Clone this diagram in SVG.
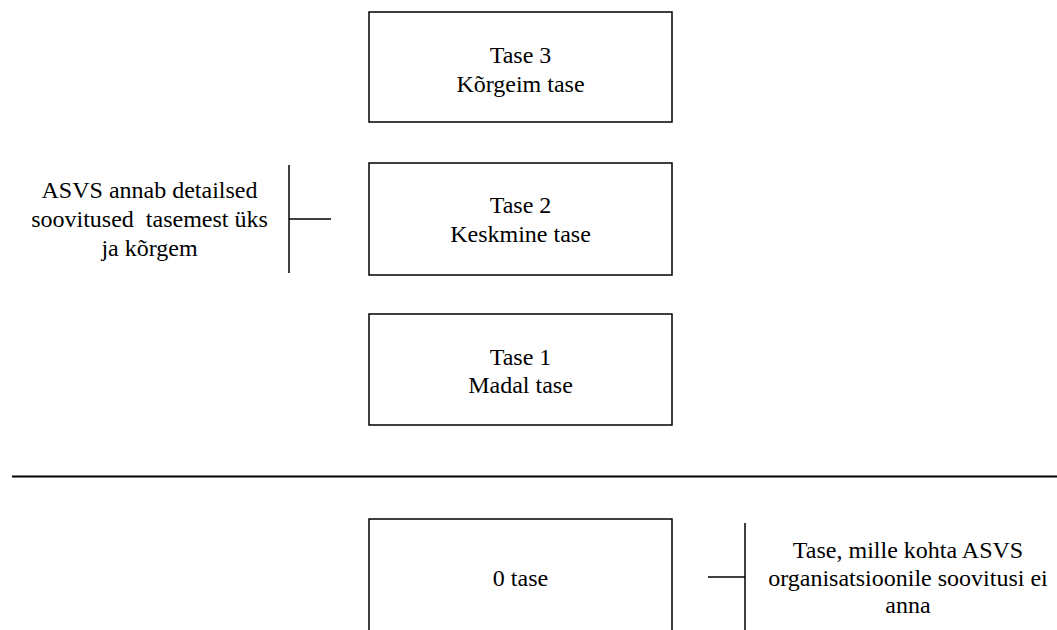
<svg xmlns="http://www.w3.org/2000/svg" width="1057" height="630" viewBox="0 0 1057 630">
<style>
.box{fill:#fff;stroke:#000;stroke-width:1.5}
.ln{stroke:#000;stroke-width:1.5;fill:none}
.t{font-family:"Liberation Serif","Times New Roman",serif;font-size:24px;fill:#000;text-anchor:middle}
</style>
<rect width="1057" height="630" fill="#fff"/>
<g id="level3">
<rect class="box" x="369" y="12" width="303" height="110"/>
<text class="t" x="520.5" y="63">Tase 3</text>
<text class="t" x="520.5" y="92">Kõrgeim tase</text>
</g>
<g id="level2">
<rect class="box" x="369" y="163" width="303" height="112"/>
<text class="t" x="520.5" y="213">Tase 2</text>
<text class="t" x="520.5" y="242">Keskmine tase</text>
</g>
<g id="level1">
<rect class="box" x="369" y="314" width="303" height="111"/>
<text class="t" x="520.5" y="365">Tase 1</text>
<text class="t" x="520.5" y="393">Madal tase</text>
</g>
<g id="level0">
<rect class="box" x="369" y="519" width="303" height="130"/>
<text class="t" x="520.5" y="586">0 tase</text>
</g>
<g id="note-left">
<text class="t" x="149.5" y="198">ASVS annab detailsed</text>
<text class="t" x="149.5" y="227" style="white-space:pre" xml:space="preserve">soovitused  tasemest üks</text>
<text class="t" x="149.5" y="256">ja kõrgem</text>
</g>
<g id="note-right">
<text class="t" x="908" y="558">Tase, mille kohta ASVS</text>
<text class="t" x="908" y="586">organisatsioonile soovitusi ei</text>
<text class="t" x="908" y="613">anna</text>
</g>
<g id="connectors">
<line class="ln" x1="289" y1="165" x2="289" y2="273"/>
<line class="ln" x1="289" y1="219" x2="331" y2="219"/>
<line class="ln" x1="745" y1="523" x2="745" y2="635"/>
<line class="ln" x1="708" y1="577" x2="745" y2="577"/>
<line x1="12" y1="476.5" x2="1057" y2="476.5" stroke="#000" stroke-width="2"/>
</g>
</svg>
